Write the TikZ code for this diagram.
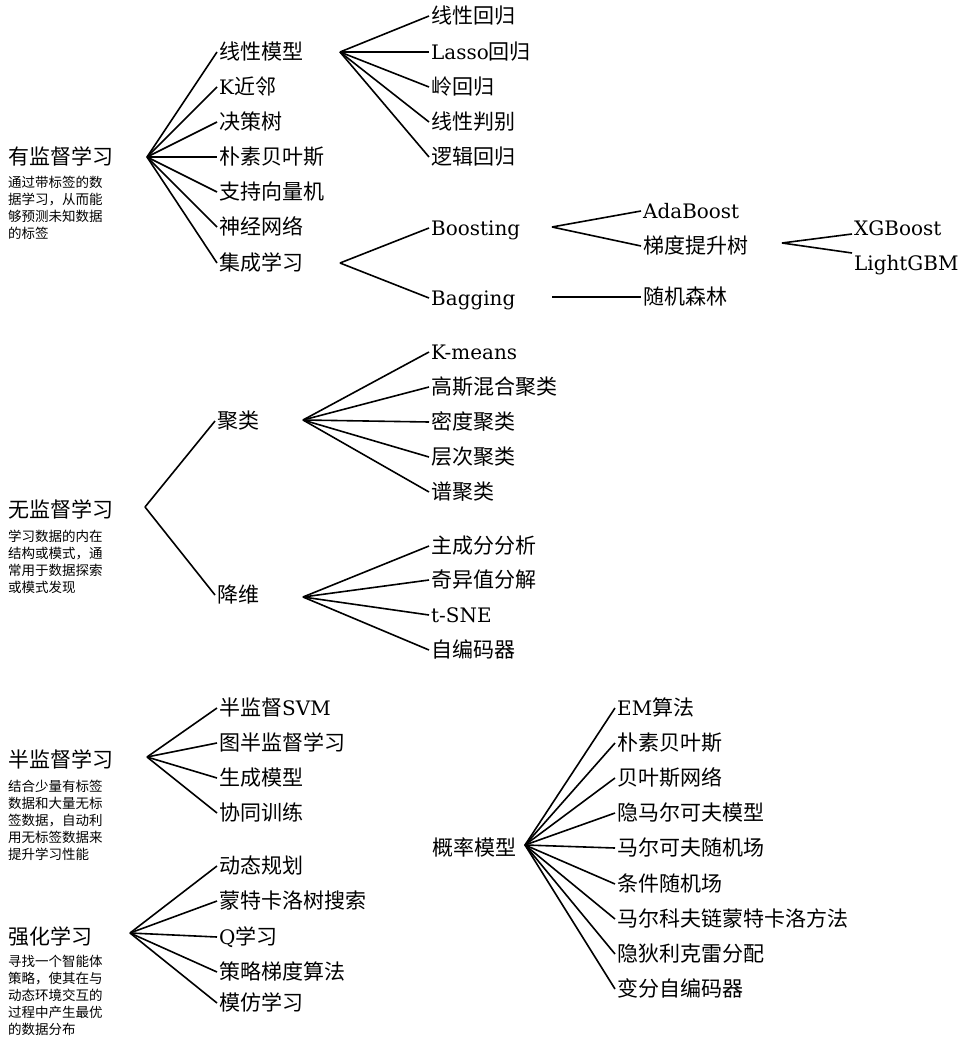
\documentclass[tikz,border=0pt]{standalone}
\usepackage{fontspec}
\newfontfamily\cjk{Noto Sans CJK SC}
\newfontfamily\enfont[Scale=0.95]{DejaVu Serif}
\newcommand{\entxt}[1]{{\enfont #1}}

\begin{document}
\begin{tikzpicture}[x=1pt,y=-1pt]
		\tikzset{
			box/.style ={
				anchor=west, %左端对齐
				inner sep=2pt, %文字和边框的距离
				text height=17pt,
				text depth=2.5pt,
				font=\cjk\fontsize{21}{25}\selectfont
			},
			desc/.style ={
				anchor=north west,
				inner sep=0pt,
				align=left,
				font=\cjk\fontsize{13.5}{17}\selectfont
			},
			link/.style ={
				line width=1.6pt
			}
		}
		\useasboundingbox (0,0) rectangle (963,1041);
		% 有监督学习
		\node[box] (sup) at(6,157){有监督学习};
		\node[desc] (supd) at(8,176){通过带标签的数\\据学习，从而能\\够预测未知数据\\的标签};
		\coordinate (s0) at(147,157);
		\node[box] (lm) at(217,52){线性模型};
		\node[box] (knn) at(217,87){\entxt{K}近邻};
		\node[box] (dt) at(217,122){决策树};
		\node[box] (nb) at(217,157){朴素贝叶斯};
		\node[box] (svm) at(217,192){支持向量机};
		\node[box] (nn) at(217,227){神经网络};
		\node[box] (el) at(217,263){集成学习};
		\coordinate (s1) at(340,52);
		\node[box] (lr) at(429,16){线性回归};
		\node[box] (lasso) at(429,52){\entxt{Lasso}回归};
		\node[box] (ridge) at(429,87){岭回归};
		\node[box] (lda) at(429,122){线性判别};
		\node[box] (logr) at(429,157){逻辑回归};
		\coordinate (s2) at(340,263);
		\node[box] (boost) at(429,228){\entxt{Boosting}};
		\node[box] (bag) at(429,298){\entxt{Bagging}};
		\coordinate (s3) at(552,227);
		\node[box] (ada) at(641,211){\entxt{AdaBoost}};
		\node[box] (gbdt) at(641,246){梯度提升树};
		\coordinate (s4) at(552,297);
		\node[box] (rf) at(641,297){随机森林};
		\coordinate (s5) at(782,243);
		\node[box] (xgb) at(852,228){\entxt{XGBoost}};
		\node[box] (lgbm) at(852,263){\entxt{LightGBM}};
		\draw[link] (s0)--(lm.west);
		\draw[link] (s0)--(knn.west);
		\draw[link] (s0)--(dt.west);
		\draw[link] (s0)--(nb.west);
		\draw[link] (s0)--(svm.west);
		\draw[link] (s0)--(nn.west);
		\draw[link] (s0)--(el.west);
		\draw[link] (s1)--(lr.west);
		\draw[link] (s1)--(lasso.west);
		\draw[link] (s1)--(ridge.west);
		\draw[link] (s1)--(lda.west);
		\draw[link] (s1)--(logr.west);
		\draw[link] (s2)--(boost.west);
		\draw[link] (s2)--(bag.west);
		\draw[link] (s3)--(ada.west);
		\draw[link] (s3)--(gbdt.west);
		\draw[link] (s4)--(rf.west);
		\draw[link] (s5)--([yshift=-6pt]xgb.west);
		\draw[link] (s5)--([yshift=10pt]lgbm.west);
		% 无监督学习
		\node[box] (uns) at(6,510){无监督学习};
		\node[desc] (unsd) at(8,530){学习数据的内在\\结构或模式，通\\常用于数据探索\\或模式发现};
		\coordinate (u0) at(145,507);
		\node[box] (clu) at(215,421){聚类};
		\node[box] (dim) at(215,595){降维};
		\coordinate (u1) at(303,420);
		\node[box] (km) at(429,352){\entxt{K-means}};
		\node[box] (gmm) at(429,387){高斯混合聚类};
		\node[box] (dbs) at(429,422){密度聚类};
		\node[box] (hc) at(429,457){层次聚类};
		\node[box] (sc) at(429,492){谱聚类};
		\coordinate (u2) at(303,597);
		\node[box] (pca) at(429,546){主成分分析};
		\node[box] (svd) at(429,580){奇异值分解};
		\node[box] (tsne) at(429,615){\entxt{t-SNE}};
		\node[box] (ae) at(429,650){自编码器};
		\draw[link] (u0)--(clu.west);
		\draw[link] (u0)--(dim.west);
		\draw[link] (u1)--(km.west);
		\draw[link] (u1)--(gmm.west);
		\draw[link] (u1)--(dbs.west);
		\draw[link] (u1)--(hc.west);
		\draw[link] (u1)--(sc.west);
		\draw[link] (u2)--(pca.west);
		\draw[link] (u2)--(svd.west);
		\draw[link] (u2)--(tsne.west);
		\draw[link] (u2)--(ae.west);
		% 半监督学习
		\node[box] (semi) at(6,760){半监督学习};
		\node[desc] (semid) at(8,780){结合少量有标签\\数据和大量无标\\签数据，自动利\\用无标签数据来\\提升学习性能};
		\coordinate (m0) at(147,757);
		\node[box] (ssvm) at(217,708){半监督\entxt{SVM}};
		\node[box] (gsl) at(217,743){图半监督学习};
		\node[box] (gen) at(217,778){生成模型};
		\node[box] (cot) at(217,813){协同训练};
		\draw[link] (m0)--(ssvm.west);
		\draw[link] (m0)--(gsl.west);
		\draw[link] (m0)--(gen.west);
		\draw[link] (m0)--(cot.west);
		% 强化学习
		\node[box] (rl) at(6,937){强化学习};
		\node[desc] (rld) at(8,955){寻找一个智能体\\策略，使其在与\\动态环境交互的\\过程中产生最优\\的数据分布};
		\coordinate (r0) at(130,933);
		\node[box] (dp) at(217,866){动态规划};
		\node[box] (mcts) at(217,901){蒙特卡洛树搜索};
		\node[box] (ql) at(217,937){\entxt{Q}学习};
		\node[box] (pg) at(217,972){策略梯度算法};
		\node[box] (il) at(217,1003){模仿学习};
		\draw[link] (r0)--(dp.west);
		\draw[link] (r0)--(mcts.west);
		\draw[link] (r0)--(ql.west);
		\draw[link] (r0)--(pg.west);
		\draw[link] (r0)--(il.west);
		% 概率模型
		\node[box] (pm) at(430,848){概率模型};
		\coordinate (p0) at(525,845);
		\node[box] (em) at(615,708){\entxt{EM}算法};
		\node[box] (pnb) at(615,743){朴素贝叶斯};
		\node[box] (bn) at(615,778){贝叶斯网络};
		\node[box] (hmm) at(615,813){隐马尔可夫模型};
		\node[box] (mrf) at(615,848){马尔可夫随机场};
		\node[box] (crf) at(615,884){条件随机场};
		\node[box] (mcmc) at(615,919){马尔科夫链蒙特卡洛方法};
		\node[box] (plda) at(615,954){隐狄利克雷分配};
		\node[box] (vae) at(615,989){变分自编码器};
		\draw[link] (p0)--(em.west);
		\draw[link] (p0)--(pnb.west);
		\draw[link] (p0)--(bn.west);
		\draw[link] (p0)--(hmm.west);
		\draw[link] (p0)--(mrf.west);
		\draw[link] (p0)--(crf.west);
		\draw[link] (p0)--(mcmc.west);
		\draw[link] (p0)--(plda.west);
		\draw[link] (p0)--(vae.west);
	\end{tikzpicture}
\end{document}
